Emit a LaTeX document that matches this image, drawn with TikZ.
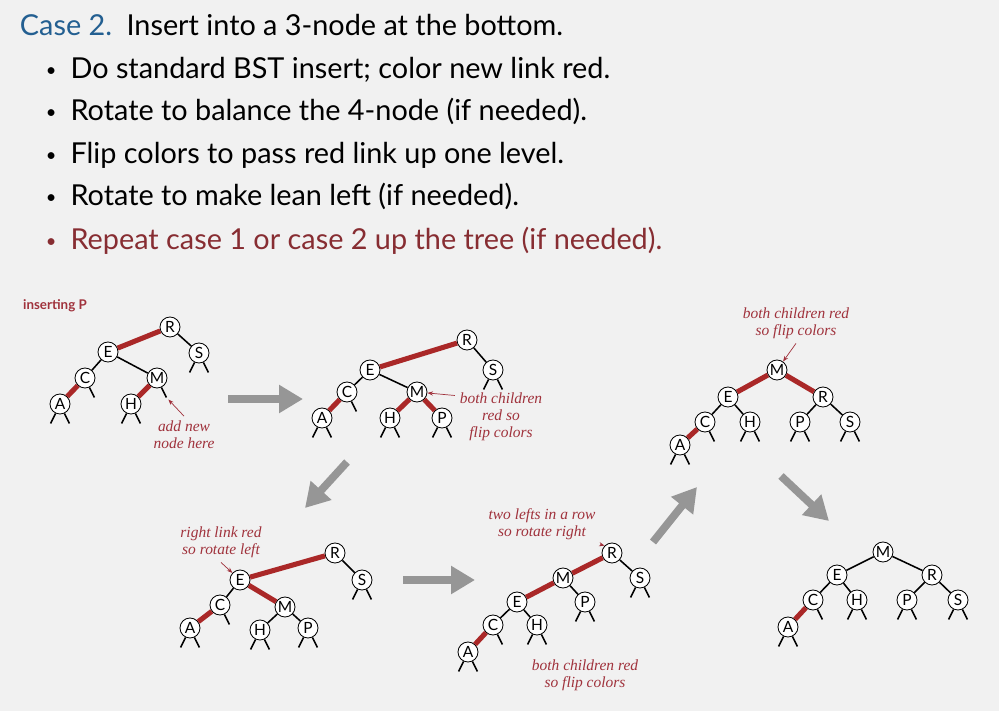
\documentclass[tikz,border=0pt]{standalone}
\usepackage{fontspec}
\setsansfont{Lato}
\newfontfamily\notefont{Liberation Serif}
\usetikzlibrary{arrows.meta}

\begin{document}
\begin{tikzpicture}[x=0.025cm, y=-0.025cm, >={Stealth[length=4pt, width=3pt]}]
\definecolor{slidegray}{RGB}{241, 241, 241}
\definecolor{caseblue}{RGB}{35, 95, 145}
\definecolor{repeatred}{RGB}{135, 45, 50}
\definecolor{linkred}{RGB}{170, 40, 40}
\definecolor{notered}{RGB}{160, 50, 60}
\definecolor{arrowgray}{RGB}{150, 150, 150}
\tikzset{
  treenode/.style={circle, draw, fill=white, line width=0.6pt, inner sep=0pt, minimum size=0.5cm, font=\sffamily\fontsize{11}{11}\selectfont},
  black link/.style={line width=1.1pt},
  red link/.style={linkred, line width=3.6pt},
  stub/.style={line width=1.1pt},
  remark/.style={notered, font=\notefont\itshape\fontsize{11}{12}\selectfont, align=center},
  remark arrow/.style={->, notered, line width=0.5pt},
  big arrow/.style={arrowgray, line width=5.5pt, -{Triangle[length=17pt, width=19pt]}},
  slide text/.style={anchor=base west, font=\sffamily\fontsize{20.5}{24}\selectfont}
}
\newcommand{\dotmark}{\makebox[17.5pt][l]{\fontsize{13}{13}\selectfont\raisebox{1.2pt}{\textbullet}}}
\fill[slidegray] (0,0) rectangle (999,711);
\useasboundingbox (0,0) rectangle (999,711);
% Text of the slide
\node[slide text] (case) at (15,35) {\textcolor{caseblue}{Case 2.}\enspace Insert into a 3-node at the bottom.};
\foreach \y/\t [count=\i] in {78/Do standard BST insert; color new link red.,
                             120/Rotate to balance the 4-node (if needed).,
                             163/Flip colors to pass red link up one level.,
                             205/Rotate to make lean left (if needed).} {
    \node[slide text] (b\i) at (41,\y) {\dotmark\t};
}
\node[slide text, repeatred] (b5) at (41,249) {\dotmark Repeat case 1 or case 2 up the tree (if needed).};
% Figure (a): inserting P
\begin{scope}
    \node[notered, font=\sffamily\bfseries\fontsize{9.5}{9.5}\selectfont] (ins) at (55,306) {inserting P};
    \node[treenode] (R1) at (170,327) {R};
    \node[treenode] (E1) at (108,352) {E};
    \node[treenode] (S1) at (199,353) {S};
    \node[treenode] (C1) at (85,378) {C};
    \node[treenode] (M1) at (157,378) {M};
    \node[treenode] (A1) at (60,404) {A};
    \node[treenode] (H1) at (131,404) {H};
    \draw[red link] (R1) -- (E1);
    \draw[red link] (C1) -- (A1);
    \draw[red link] (M1) -- (H1);
    \draw[black link] (R1) -- (S1);
    \draw[black link] (E1) -- (C1);
    \draw[black link] (E1) -- (M1);
    \foreach \n in {A1, H1, S1} {
        \draw[stub] (\n.-115) -- ++(-5,10);
        \draw[stub] (\n.-65) -- ++(5,10);
    }
    \draw[stub] (C1.-65) -- ++(5,10);
    \draw[stub] (M1.-65) -- ++(5,10) coordinate (new1);
    \node[remark] (note1) at (184,435) {add new\\node here};
    \draw[remark arrow, shorten >=2pt] (note1.north) -- (new1);
\end{scope}
% Figure (b): both children red
\begin{scope}
    \node[treenode] (R2) at (467,340) {R};
    \node[treenode] (E2) at (370,370) {E};
    \node[treenode] (S2) at (493,370) {S};
    \node[treenode] (C2) at (347,392) {C};
    \node[treenode] (M2) at (417,392) {M};
    \node[treenode] (A2) at (322,418) {A};
    \node[treenode] (H2) at (390,418) {H};
    \node[treenode] (P2) at (442,418) {P};
    \draw[red link] (R2) -- (E2);
    \draw[red link] (C2) -- (A2);
    \draw[red link] (M2) -- (H2);
    \draw[red link] (M2) -- (P2);
    \draw[black link] (R2) -- (S2);
    \draw[black link] (E2) -- (C2);
    \draw[black link] (E2) -- (M2);
    \foreach \n in {A2, H2, P2, S2} {
        \draw[stub] (\n.-115) -- ++(-5,10);
        \draw[stub] (\n.-65) -- ++(5,10);
    }
    \draw[stub] (C2.-65) -- ++(5,10);
    \node[remark] (note2) at (501,417) {both children\\red so\\flip colors};
    \draw[remark arrow] (note2.155) -- (M2);
\end{scope}
% Figure (c): rotate left
\begin{scope}
    \node[treenode] (R4) at (335,553) {R};
    \node[treenode] (E4) at (240,580) {E};
    \node[treenode] (S4) at (362,580) {S};
    \node[treenode] (C4) at (220,605) {C};
    \node[treenode] (M4) at (285,607) {M};
    \node[treenode] (A4) at (190,628) {A};
    \node[treenode] (H4) at (260,630) {H};
    \node[treenode] (P4) at (308,628) {P};
    \draw[red link] (R4) -- (E4);
    \draw[red link] (E4) -- (M4);
    \draw[red link] (C4) -- (A4);
    \draw[black link] (R4) -- (S4);
    \draw[black link] (E4) -- (C4);
    \draw[black link] (M4) -- (H4);
    \draw[black link] (M4) -- (P4);
    \foreach \n in {A4, H4, P4, S4} {
        \draw[stub] (\n.-115) -- ++(-5,10);
        \draw[stub] (\n.-65) -- ++(5,10);
    }
    \draw[stub] (C4.-65) -- ++(5,10);
    \node[remark] (note4) at (221,542) {right link red\\so rotate left};
    \draw[remark arrow] (note4.south) -- (E4);
\end{scope}
% Figure (d): rotate right
\begin{scope}
    \node[treenode] (R5) at (612,553) {R};
    \node[treenode] (M5) at (563,578) {M};
    \node[treenode] (S5) at (640,578) {S};
    \node[treenode] (E5) at (517,602) {E};
    \node[treenode] (P5) at (585,602) {P};
    \node[treenode] (C5) at (493,625) {C};
    \node[treenode] (H5) at (537,625) {H};
    \node[treenode] (A5) at (468,652) {A};
    \draw[red link] (R5) -- (M5);
    \draw[red link] (M5) -- (E5);
    \draw[red link] (C5) -- (A5);
    \draw[black link] (R5) -- (S5);
    \draw[black link] (M5) -- (P5);
    \draw[black link] (E5) -- (C5);
    \draw[black link] (E5) -- (H5);
    \foreach \n in {A5, H5, P5, S5} {
        \draw[stub] (\n.-115) -- ++(-5,10);
        \draw[stub] (\n.-65) -- ++(5,10);
    }
    \draw[stub] (C5.-65) -- ++(5,10);
    \node[remark] (note5) at (542,524) {two lefts in a row\\so rotate right};
    \draw[remark arrow] (note5.south east) -- (R5.north west);
    \node[remark] (note6) at (585,675) {both children red\\so flip colors};
\end{scope}
% Figure (e): flip colors
\begin{scope}
    \node[treenode] (M3) at (777,370) {M};
    \node[treenode] (E3) at (728,397) {E};
    \node[treenode] (R3) at (823,397) {R};
    \node[treenode] (C3) at (705,422) {C};
    \node[treenode] (H3) at (750,422) {H};
    \node[treenode] (P3) at (800,422) {P};
    \node[treenode] (S3) at (850,422) {S};
    \node[treenode] (A3) at (680,445) {A};
    \draw[red link] (M3) -- (E3);
    \draw[red link] (M3) -- (R3);
    \draw[red link] (C3) -- (A3);
    \draw[black link] (E3) -- (C3);
    \draw[black link] (E3) -- (H3);
    \draw[black link] (R3) -- (P3);
    \draw[black link] (R3) -- (S3);
    \foreach \n in {A3, H3, P3, S3} {
        \draw[stub] (\n.-115) -- ++(-5,10);
        \draw[stub] (\n.-65) -- ++(5,10);
    }
    \draw[stub] (C3.-65) -- ++(5,10);
    \node[remark] (note3) at (796,323) {both children red\\so flip colors};
    \draw[remark arrow] (note3.south) -- (M3);
\end{scope}
% Figure (f): result
\begin{scope}
    \node[treenode] (M6) at (883,552) {M};
    \node[treenode] (E6) at (837,575) {E};
    \node[treenode] (R6) at (932,575) {R};
    \node[treenode] (C6) at (813,600) {C};
    \node[treenode] (H6) at (857,600) {H};
    \node[treenode] (P6) at (907,600) {P};
    \node[treenode] (S6) at (958,600) {S};
    \node[treenode] (A6) at (788,627) {A};
    \draw[red link] (C6) -- (A6);
    \draw[black link] (M6) -- (E6);
    \draw[black link] (M6) -- (R6);
    \draw[black link] (E6) -- (C6);
    \draw[black link] (E6) -- (H6);
    \draw[black link] (R6) -- (P6);
    \draw[black link] (R6) -- (S6);
    \foreach \n in {A6, H6, P6, S6} {
        \draw[stub] (\n.-115) -- ++(-5,10);
        \draw[stub] (\n.-65) -- ++(5,10);
    }
    \draw[stub] (C6.-65) -- ++(5,10);
\end{scope}
% Big gray arrows between the steps
\coordinate (g1s) at (228,399); \coordinate (g1e) at (303,399);
\coordinate (g2s) at (347,462); \coordinate (g2e) at (305,508);
\coordinate (g3s) at (403,580); \coordinate (g3e) at (475,580);
\coordinate (g4s) at (653,542); \coordinate (g4e) at (697,487);
\coordinate (g5s) at (781,476); \coordinate (g5e) at (829,521);
\foreach \i in {1,...,5} {
    \draw[big arrow] (g\i s) -- (g\i e);
}
\end{tikzpicture}
\end{document}
